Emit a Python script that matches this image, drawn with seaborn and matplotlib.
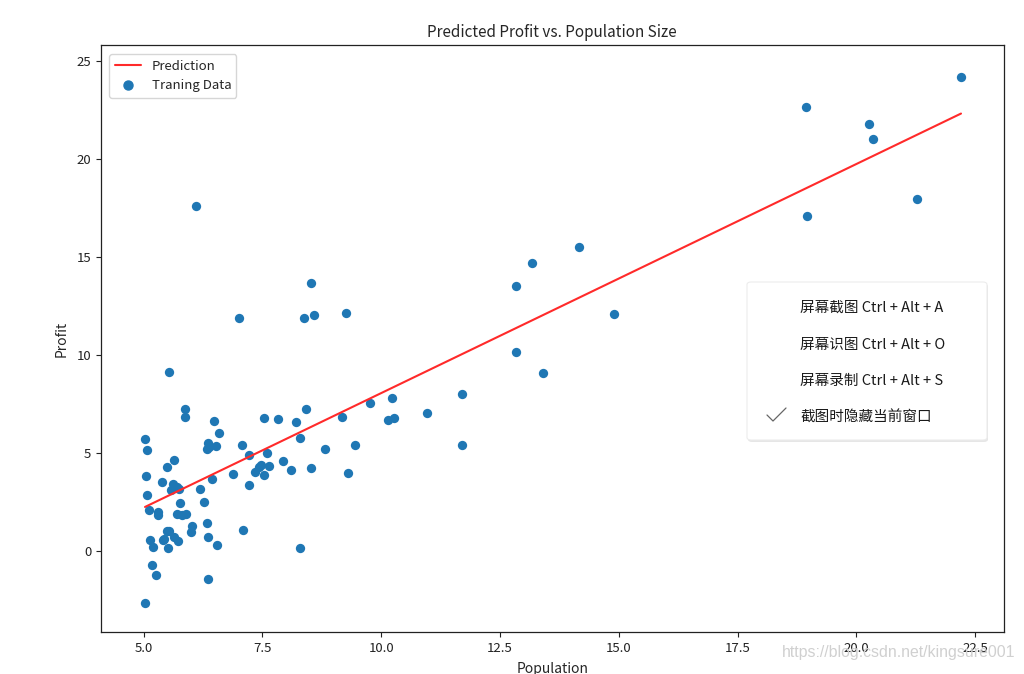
import matplotlib
matplotlib.use("Agg")
import matplotlib.pyplot as plt
import seaborn as sns
from matplotlib.patches import FancyBboxPatch
from matplotlib.lines import Line2D
import pandas as pd

# training data (population in 10k, profit in $10k)
population = [
    6.1101, 5.5277, 8.5186, 7.0032, 5.8598, 8.3829, 7.4764, 8.5781, 6.4862, 5.0546,
    5.7107, 14.164, 5.734, 8.4084, 5.6407, 5.3794, 6.3654, 5.1301, 6.4296, 7.0708,
    6.1891, 20.27, 5.4901, 6.3261, 5.5649, 18.945, 12.828, 10.957, 13.176, 22.203,
    5.2524, 6.5894, 9.2482, 5.8918, 8.2111, 7.9334, 8.0959, 5.6063, 12.836, 6.3534,
    5.4069, 6.8825, 11.708, 5.7737, 7.8247, 7.0931, 5.0702, 5.8014, 11.7, 5.5416,
    7.5402, 5.3077, 7.4239, 7.6031, 6.3328, 6.3589, 6.2742, 5.6397, 9.3102, 9.4536,
    8.8254, 5.1793, 21.279, 14.908, 18.959, 7.2182, 8.2951, 10.236, 5.4994, 20.341,
    10.136, 7.3345, 6.0062, 7.2259, 5.0269, 6.5479, 7.5386, 5.0365, 10.274, 5.1077,
    5.7292, 5.1884, 6.3557, 9.7687, 6.5159, 8.5172, 9.1802, 6.002, 5.5204, 5.0594,
    5.7077, 7.6366, 5.8707, 5.3054, 8.2934, 13.394, 5.4369,
]
profit = [
    17.592, 9.1302, 13.662, 11.854, 6.8233, 11.886, 4.3483, 12.0, 6.5987, 3.8166,
    3.2522, 15.505, 3.1551, 7.2258, 0.71618, 3.5129, 5.3048, 0.56077, 3.6518, 5.3893,
    3.1386, 21.767, 4.263, 5.1875, 3.0825, 22.638, 13.501, 7.0467, 14.692, 24.147,
    -1.22, 5.9966, 12.134, 1.8495, 6.5426, 4.5623, 4.1164, 3.3928, 10.117, 5.4974,
    0.55657, 3.9115, 5.3854, 2.4406, 6.7318, 1.0463, 5.1337, 1.844, 8.0043, 1.0179,
    6.7504, 1.8396, 4.2885, 4.9981, 1.4233, -1.4211, 2.4756, 4.6042, 3.9624, 5.4141,
    5.1694, -0.74279, 17.929, 12.054, 17.054, 4.8852, 5.7442, 7.7754, 1.0173, 20.992,
    6.6799, 4.0259, 1.2784, 3.3411, -2.6807, 0.29678, 3.8845, 5.7014, 6.7526, 2.0576,
    0.47953, 0.20421, 0.67861, 7.5435, 5.3436, 4.2415, 6.7981, 0.92695, 0.152, 2.8214,
    1.8451, 4.2959, 7.2029, 1.9869, 0.14454, 9.0551, 0.61705,
]

# fitted line end points
line_x = [5.0269, 22.203]
line_y = [2.23, 22.3]

menu_items = ["屏幕截图 Ctrl + Alt + A", "屏幕识图 Ctrl + Alt + O",
              "屏幕录制 Ctrl + Alt + S", "截图时隐藏当前窗口"]
watermark = "https://blog.csdn.net/kingsure001"

sns.set_style("ticks")
plt.rcParams["font.family"] = ["Noto Sans CJK SC", "DejaVu Sans"]

df = pd.DataFrame({"Population": population, "Profit": profit})
line_df = pd.DataFrame({"x": line_x, "y": line_y})

fig = plt.figure(figsize=(10.24, 6.74), dpi=100)
ax = fig.add_axes([0.0986, 0.0623, 0.8815, 0.8710])

sns.lineplot(data=line_df, x="x", y="y", color="#ff2a2a", linewidth=1.5, ax=ax)
sns.scatterplot(data=df, x="Population", y="Profit", color="#1f77b4", s=45,
                linewidth=0, ax=ax)

ax.set_xlim(4.1, 23.1)
ax.set_ylim(-4.15, 25.8)
ax.set_xticks([5, 7.5, 10, 12.5, 15, 17.5, 20, 22.5])
ax.set_xticklabels(["5.0", "7.5", "10.0", "12.5", "15.0", "17.5", "20.0", "22.5"])
ax.tick_params(labelsize=9.5, length=3.5, width=0.8, colors="#222222")
for s in ax.spines.values():
    s.set_linewidth(0.9)
    s.set_color("#222222")

ax.set_title("Predicted Profit vs. Population Size", fontsize=11, pad=6)
ax.set_xlabel("Population", fontsize=10, labelpad=5)
ax.set_ylabel("Profit", fontsize=10, labelpad=6)

handles = [Line2D([], [], color="#ff2a2a", lw=1.5),
           Line2D([], [], marker="o", ls="", color="#1f77b4", markersize=6.5)]
ax.legend(handles, ["Prediction", "Traning Data"], loc="upper left",
          fontsize=9.5, frameon=True, borderpad=0.4, handlelength=2.0,
          bbox_to_anchor=(0.002, 0.995))

# screenshot tool popup that covers part of the chart
W, H = 1024, 674
shadow = FancyBboxPatch((748 / W, 1 - 442 / H), 240 / W, 158 / H,
                        boxstyle="round,pad=0,rounding_size=0.004",
                        transform=fig.transFigure, facecolor="#e6e6e6",
                        edgecolor="none", zorder=9)
box = FancyBboxPatch((747 / W, 1 - 440 / H), 240 / W, 158 / H,
                     boxstyle="round,pad=0,rounding_size=0.004",
                     transform=fig.transFigure, facecolor="white",
                     edgecolor="#ececec", linewidth=0.8, zorder=10)
fig.patches.extend([shadow, box])
for i, item in enumerate(menu_items):
    fig.text(800 / W, 1 - (308 + 36.5 * i) / H, item, fontsize=10.5,
             va="center", ha="left", color="#1a1a1a", zorder=11)
fig.lines.append(Line2D([767 / W, 773 / W, 786 / W],
                        [1 - 415 / H, 1 - 421 / H, 1 - 408 / H],
                        transform=fig.transFigure, color="#666666",
                        lw=0.9, zorder=11))

fig.text(1015 / W, 1 - 653 / H, watermark, fontsize=11.4, ha="right",
         va="center", color="#d0d0d0", family="Liberation Sans", zorder=12)

fig.savefig("out.png", dpi=100)
